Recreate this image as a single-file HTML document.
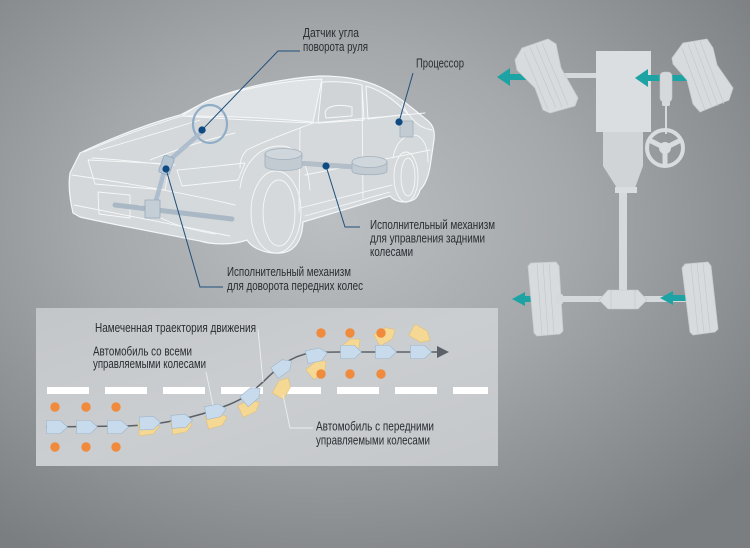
<!DOCTYPE html>
<html><head><meta charset="utf-8"><style>
html,body{margin:0;padding:0;width:750px;height:548px;overflow:hidden;background:#9a9da0}
svg{display:block}
text{font-family:"Liberation Sans Narrow","Liberation Sans",sans-serif;font-size:12.5px;fill:#2a2d31}
</style></head><body>
<svg width="750" height="548" viewBox="0 0 750 548" xmlns="http://www.w3.org/2000/svg">
<defs>
<radialGradient id="bg" cx="0.44" cy="0.40" r="0.72">
<stop offset="0" stop-color="#bcbfc1"/>
<stop offset="0.45" stop-color="#a5a8ab"/>
<stop offset="1" stop-color="#7b7e81"/>
</radialGradient>
<linearGradient id="pn" x1="0" y1="0" x2="1" y2="1">
<stop offset="0" stop-color="#c3c6c9"/>
<stop offset="0.5" stop-color="#cbced0"/>
<stop offset="1" stop-color="#c4c7ca"/>
</linearGradient>
<polygon id="bc" points="-10.5,-6.5 3.5,-6.5 10.5,0 3.5,6.5 -10.5,6.5" fill="#c8dbed" stroke="#9fb5ca" stroke-width="0.6"/>
<polygon id="yc" points="-10.5,-6.5 3.5,-6.5 10.5,0 3.5,6.5 -10.5,6.5" fill="#f4d894" stroke="#dfbf7c" stroke-width="0.6"/>
</defs>
<rect width="750" height="548" fill="url(#bg)"/>

<!-- ================= CAR ================= -->
<g stroke-linejoin="round" stroke-linecap="round">
<path d="M73,213 C70,200 68,185 70,173 L80,153 C100,143 140,126 180,115 C195,108 205,101 217,97 C245,87 285,78 320,76 C345,76 365,80 380,87 C395,94 410,106 427,120 C433,125 435,130 434,140 L430,167 C428,178 425,185 420,190 C418,197 415,201 406,202 C398,202 393,200 390,196 L303,222 C302,240 295,252 280,253 C265,254 252,248 247,240 C230,246 210,244 200,241 C160,233 110,224 80,217 Z" fill="#d7dbde" fill-opacity="0.93" stroke="#f4f6f7" stroke-width="1.2"/>
<!-- windshield -->
<path d="M182,116 C195,107 205,101 217,97 C250,87 290,80 322,79 L313,122 C270,118 225,116 182,116 Z" fill="#dfe3e5" stroke="#f7f8f9" stroke-width="1"/>
<!-- side windows -->
<path d="M322,82 C340,81 356,83 362,85 L364,120 L318,123 Z" fill="#d0d4d7" stroke="#f7f8f9" stroke-width="1"/>
<path d="M366,86 C380,90 392,98 404,110 L408,114 L368,119 Z" fill="#d0d4d7" stroke="#f7f8f9" stroke-width="1"/>
<path d="M325,112 C328,105 340,104 352,107 L352,116 L326,118 Z" fill="none" stroke="#f7f8f9" stroke-width="0.9"/>
<g fill="none" stroke="#f6f7f8" stroke-width="0.9">
<!-- hood -->
<path d="M84,152 C120,136 150,126 182,116"/>
<path d="M92,158 C130,160 160,165 175,165"/>
<path d="M100,150 C140,138 175,128 200,120"/>
<path d="M182,116 C240,120 290,122 313,123"/>
<path d="M313,123 C290,132 262,142 247,150 C242,155 240,160 240,168"/>
<path d="M150,160 C175,150 205,140 235,133"/>
<!-- grille & face -->
<path d="M88,160 L170,164 L165,190 L95,184 Z"/>
<path d="M177,170 C200,168 225,165 245,163 L238,180 L182,186 Z"/>
<path d="M72,175 C120,182 180,192 235,205"/>
<path d="M98,192 L130,195 L130,218 L99,214 Z"/>
<path d="M74,205 C120,214 180,226 230,236"/>
<path d="M140,205 C160,220 180,228 215,234"/>
<!-- beltline / doors -->
<path d="M313,123 L425,113"/>
<path d="M305,175 C340,168 380,160 430,150"/>
<path d="M300,128 L299,212"/>
<path d="M362,86 L363,198"/>
<path d="M300,208 L392,185"/>
<path d="M305,216 L390,192"/>
<path d="M402,104 C410,118 418,128 432,130"/>
<!-- arches -->
<path d="M240,188 C244,160 262,146 280,146 C298,146 308,162 310,190"/>
<path d="M393,158 C396,140 408,132 418,136 C425,140 428,150 428,162"/>
<!-- wheels -->
<ellipse cx="276" cy="212" rx="25" ry="41"/>
<ellipse cx="279" cy="213" rx="16" ry="33"/>
<ellipse cx="406" cy="177" rx="12" ry="25"/>
<ellipse cx="408" cy="177" rx="7" ry="19"/>
</g>
<!-- steering system -->
<ellipse cx="210" cy="124" rx="17" ry="19" fill="none" stroke="#8fadc6" stroke-width="2.2"/>
<path d="M204,130 L172,158 L164,172 L155,204" fill="none" stroke="#a9bacb" stroke-width="4.5" stroke-opacity="0.9"/>
<rect x="161" y="156" width="11" height="18" rx="2" fill="#b7c6d3" stroke="#8fa9c0" stroke-width="0.8" transform="rotate(20 166 165)"/>
<path d="M115,205 L232,219" stroke="#aab8c5" stroke-width="5" fill="none"/>
<rect x="145" y="200" width="15" height="18" fill="#c4ced6" stroke="#98aabb" stroke-width="0.8"/>
<!-- rear actuator -->
<path d="M298,163 L355,167" stroke="#b3bec8" stroke-width="5" fill="none"/>
<path d="M265,154 L265,166 C265,172 302,172 302,166 L302,154 Z" fill="#c3cbd2" stroke="#a2b0bd" stroke-width="0.8"/>
<ellipse cx="283.5" cy="154" rx="18.5" ry="5.5" fill="#cfd6dc" stroke="#a2b0bd" stroke-width="0.8"/>
<path d="M352,162 L352,171 C352,176 387,176 387,171 L387,162 Z" fill="#c3cbd2" stroke="#a2b0bd" stroke-width="0.8"/>
<ellipse cx="369.5" cy="162" rx="17.5" ry="5.5" fill="#cfd6dc" stroke="#a2b0bd" stroke-width="0.8"/>
<!-- processor -->
<rect x="400" y="121" width="13" height="16" fill="#c3cbd2" stroke="#a2b0bd" stroke-width="0.8"/>
</g>

<!-- leader lines top -->
<g fill="none" stroke="#1f4f7b" stroke-width="1">
<polyline points="300,51 278,51 202,130"/>
<polyline points="413,73 399,122"/>
<polyline points="326,166 345,227 360,227"/>
<polyline points="166,169 200,287 223,287"/>
</g>
<g fill="#0f4a82">
<circle cx="202" cy="130" r="3.6"/>
<circle cx="399" cy="122" r="3.6"/>
<circle cx="326" cy="166" r="3.6"/>
<circle cx="166" cy="169" r="3.6"/>
</g>

<!-- labels top -->
<text x="303" y="37" textLength="56" lengthAdjust="spacingAndGlyphs">Датчик угла</text>
<text x="303" y="51" textLength="65" lengthAdjust="spacingAndGlyphs">поворота руля</text>
<text x="416" y="67.5" textLength="48" lengthAdjust="spacingAndGlyphs">Процессор</text>
<text x="370" y="229" textLength="125" lengthAdjust="spacingAndGlyphs">Исполнительный механизм</text>
<text x="370" y="242.5" textLength="115" lengthAdjust="spacingAndGlyphs">для управления задними</text>
<text x="370" y="256" textLength="43" lengthAdjust="spacingAndGlyphs">колесами</text>
<text x="227" y="276" textLength="124" lengthAdjust="spacingAndGlyphs">Исполнительный механизм</text>
<text x="227" y="290" textLength="136" lengthAdjust="spacingAndGlyphs">для доворота передних колес</text>

<!-- ================= RIGHT SCHEMATIC ================= -->
<g fill="#d6d9db">
<rect x="560" y="73" width="38" height="5"/>
<rect x="557" y="296" width="132" height="6"/>
<rect x="619" y="190" width="8" height="100"/>
<polygon points="603,132 643,132 643,166 635,188 617,188 603,166" fill="#d1d4d6"/>
<rect x="615" y="187" width="22" height="6" fill="#dadddf"/>
<rect x="596" y="51" width="55" height="81" fill="#dbdee0"/>
<polygon points="599,300 608,290 638,290 647,300 638,309 608,309" fill="#d9dcde" stroke="#c4c7c9" stroke-width="0.6"/>
<line x1="611" y1="290" x2="611" y2="309" stroke="#c2c5c7" stroke-width="0.6"/>
<line x1="635" y1="290" x2="635" y2="309" stroke="#c2c5c7" stroke-width="0.6"/>
</g>
<!-- arrows (under tires) -->
<g fill="#1ea3a4">
<rect x="508" y="74" width="30" height="6"/><polygon points="497,77 510,68 510,86"/>
<rect x="645" y="75" width="45" height="6"/><polygon points="635,78 648,69 648,87"/>
<rect x="523" y="296" width="14" height="6"/><polygon points="512,299 525,292 525,306"/>
<rect x="670" y="295" width="18" height="6"/><polygon points="660,298 673,291 673,305"/>
</g>
<!-- tires -->
<g fill="#d8dbdd" stroke="#c8cbcd" stroke-width="0.8" stroke-linejoin="round">
<polygon points="515,60 522,48 548,39 556,44 561,68 578,98 575,106 550,113 543,110 535,88 517,70"/>
<polygon points="672,58 683,43 707,39 713,48 717,65 733,88 729,100 700,112 693,104 687,80 673,64"/>
<polygon points="528,266 531,263 556,262 559,266 563,331 560,334 537,336 534,333"/>
<polygon points="682,268 685,264 708,262 711,266 718,329 715,332 693,335 690,332"/>
</g>
<g stroke="#c3c6c8" stroke-width="0.6" fill="none">
<line x1="530" y1="47" x2="556" y2="108"/><line x1="536" y1="45" x2="562" y2="107"/><line x1="542" y1="43" x2="568" y2="105"/><line x1="524" y1="52" x2="548" y2="110"/>
<line x1="688" y1="44" x2="712" y2="108"/><line x1="694" y1="42" x2="718" y2="106"/><line x1="700" y1="41" x2="724" y2="104"/><line x1="682" y1="48" x2="705" y2="110"/>
<line x1="537" y1="264" x2="542" y2="335"/><line x1="543" y1="263" x2="548" y2="335"/><line x1="549" y1="263" x2="554" y2="334"/>
<line x1="691" y1="264" x2="698" y2="334"/><line x1="697" y1="263" x2="704" y2="333"/><line x1="703" y1="263" x2="710" y2="332"/>
</g>
<rect x="556" y="294" width="7" height="10" rx="2" fill="#d6d9db"/>
<!-- steering -->
<rect x="660" y="72" width="12" height="30" rx="4" fill="#d6d9db" stroke="#c5c8ca" stroke-width="0.6"/>
<rect x="662" y="101" width="8" height="5" rx="1.5" fill="#d6d9db"/>
<line x1="666" y1="106" x2="666" y2="134" stroke="#d6d9db" stroke-width="2"/>
<circle cx="665" cy="148" r="18" fill="none" stroke="#d9dcde" stroke-width="4"/>
<g stroke="#d9dcde" stroke-width="5" stroke-linecap="round">
<line x1="665" y1="148" x2="651" y2="141"/><line x1="665" y1="148" x2="679" y2="141"/><line x1="665" y1="148" x2="665" y2="163"/>
</g>
<circle cx="665" cy="148" r="6" fill="#dadddf"/>

<!-- ================= BOTTOM PANEL ================= -->
<rect x="36" y="308" width="462" height="158" fill="url(#pn)"/>
<g fill="#ffffff">
<rect x="47" y="387" width="42" height="7"/><rect x="105" y="387" width="42" height="7"/>
<rect x="163" y="387" width="42" height="7"/><rect x="221" y="387" width="42" height="7"/>
<rect x="279" y="387" width="42" height="7"/><rect x="337" y="387" width="42" height="7"/>
<rect x="395" y="387" width="42" height="7"/><rect x="453" y="387" width="35" height="7"/>
</g>
<path d="M46,427 L125,426 C165,425 200,416 228,405 C248,397 255,389 263,382 C275,370 290,356 310,353 C320,352 330,352 340,352 L440,352" fill="none" stroke="#5b6168" stroke-width="1.5"/>
<polygon points="437,346 449,352 437,358" fill="#5b6168"/>
<!-- yellow -->
<use href="#yc" transform="translate(149,428) rotate(-8)"/>
<use href="#yc" transform="translate(182,426) rotate(-12)"/>
<use href="#yc" transform="translate(217,420) rotate(-15)"/>
<use href="#yc" transform="translate(250,407) rotate(-25)"/>
<use href="#yc" transform="translate(283,387) rotate(-60)"/>
<use href="#yc" transform="translate(318,368) rotate(-40)"/>
<use href="#yc" transform="translate(352,346) rotate(-40)"/>
<use href="#yc" transform="translate(386,335) rotate(-30)"/>
<use href="#yc" transform="translate(421,335) rotate(30)"/>
<!-- blue -->
<use href="#bc" transform="translate(57,427)"/>
<use href="#bc" transform="translate(87,427)"/>
<use href="#bc" transform="translate(118,427)"/>
<use href="#bc" transform="translate(150,423) rotate(-3)"/>
<use href="#bc" transform="translate(182,421) rotate(-5)"/>
<use href="#bc" transform="translate(216,411) rotate(-12)"/>
<use href="#bc" transform="translate(252,395) rotate(-40)"/>
<use href="#bc" transform="translate(283,367) rotate(-35)"/>
<use href="#bc" transform="translate(317,355) rotate(-12)"/>
<use href="#bc" transform="translate(351,352)"/>
<use href="#bc" transform="translate(386,352)"/>
<use href="#bc" transform="translate(421,352)"/>
<!-- orange dots -->
<g fill="#f08a3c">
<circle cx="55" cy="407" r="4.7"/><circle cx="86" cy="407" r="4.7"/><circle cx="116" cy="407" r="4.7"/>
<circle cx="55" cy="447" r="4.7"/><circle cx="86" cy="447" r="4.7"/><circle cx="116" cy="447" r="4.7"/>
<circle cx="321" cy="333" r="4.7"/><circle cx="350" cy="333" r="4.7"/><circle cx="381" cy="333" r="4.7"/>
<circle cx="321" cy="374" r="4.7"/><circle cx="350" cy="374" r="4.7"/><circle cx="381" cy="374" r="4.7"/>
</g>
<!-- panel leaders -->
<g fill="none" stroke="#eceef0" stroke-width="0.9">
<polyline points="258,329 263,382"/>
<polyline points="206,372 213,405"/>
<polyline points="283,395 290,428 313,428"/>
</g>
<text x="95" y="332" textLength="161" lengthAdjust="spacingAndGlyphs">Намеченная траектория движения</text>
<text x="93" y="355.5" textLength="99" lengthAdjust="spacingAndGlyphs">Автомобиль со всеми</text>
<text x="93" y="368" textLength="113" lengthAdjust="spacingAndGlyphs">управляемыми колесами</text>
<text x="316" y="430.5" textLength="118" lengthAdjust="spacingAndGlyphs">Автомобиль с передними</text>
<text x="316" y="444.5" textLength="114" lengthAdjust="spacingAndGlyphs">управляемыми колесами</text>
</svg>
</body></html>
